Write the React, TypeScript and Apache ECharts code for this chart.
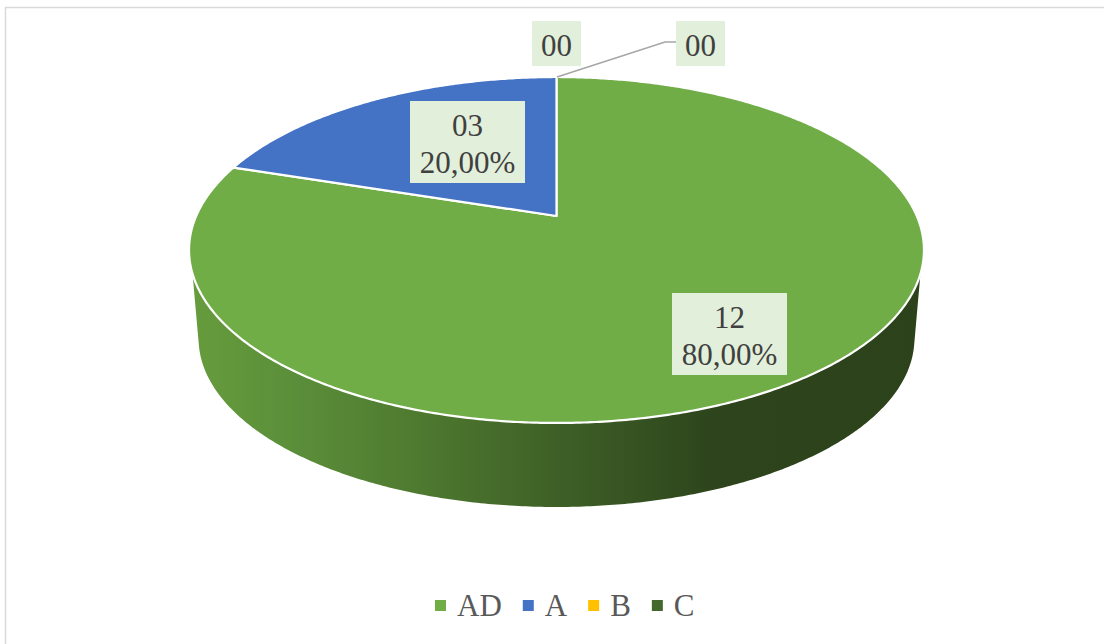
import React, { useEffect, useRef } from "react";
import * as echarts from "echarts";

const categories = ["AD", "A", "B", "C"];
const values = [12, 3, 0, 0];
const sliceColors = ["#70ad47", "#4472c4", "#ffc000", "#43682b"];

const WIDTH = 1104;
const HEIGHT = 644;
const FONT = '"Liberation Serif", "Times New Roman", serif';
const LABEL_BG = "#e2efda";
const LABEL_TEXT = "#404040";

// Perspective model of the pie's top disc: a unit circle seen through a homography.
const APEX_X = 556.5;
const APEX_Y = 216;
const RADIUS_X = 360.3;
const RADIUS_Y = 166.3;
const TILT = -0.1965;
const DISC_CENTER_Y = 250;

// The lower rim is the same ellipse, slightly shrunk and moved down.
const RIM_SCALE = 0.974;
const RIM_CENTER_Y = 338.5;
// Where each edge leaves the silhouette of the drum.
const TOP_WALL_LIMIT = 273;
const RIM_WALL_LIMIT = 345;

const total = values.reduce((a, b) => a + b, 0);
const startAngles = values.map((_, i) =>
  values.slice(0, i).reduce((a, b) => a + b, 0) / total * 360
);

type Pt = [number, number];

function topPoint(deg: number): Pt {
  const t = (deg * Math.PI) / 180;
  const u = Math.sin(t);
  const v = -Math.cos(t);
  const w = 1 + TILT * v;
  return [APEX_X + (RADIUS_X * u) / w, APEX_Y + (RADIUS_Y * v) / w];
}

function rimPoint(deg: number): Pt {
  const [x, y] = topPoint(deg);
  return [
    APEX_X + RIM_SCALE * (x - APEX_X),
    RIM_CENTER_Y + RIM_SCALE * (y - DISC_CENTER_Y),
  ];
}

function sampleAngles(from: number, to: number): number[] {
  const out: number[] = [];
  for (let a = from; a < to; a += 0.5) out.push(a);
  out.push(to);
  return out;
}

const wallFill = () =>
  new echarts.graphic.LinearGradient(0, 0, 1, 0, [
    { offset: 0, color: "#669c3d" },
    { offset: 0.15, color: "#5a8d39" },
    { offset: 0.3, color: "#4f7b30" },
    { offset: 0.5, color: "#3e6026" },
    { offset: 0.72, color: "#2d441c" },
    { offset: 1, color: "#2c421b" },
  ]);

// Data label placement: box left, top, right, bottom.
const labelBoxes: [number, number, number, number][] = [
  [672, 293, 787, 375],
  [410, 101, 525, 183],
  [532, 21, 581, 66],
  [676, 21, 725, 66],
];

function labelText(i: number): string {
  const count = String(values[i]).padStart(2, "0");
  if (values[i] === 0) return count;
  const pct = ((values[i] / total) * 100).toFixed(2).replace(".", ",");
  return `${count}\n${pct}%`;
}

function renderSlice(i: number) {
  const children: any[] = [];
  const from = startAngles[i];
  const sweep = (values[i] / total) * 360;

  if (sweep > 0) {
    const angles = sampleAngles(from, from + sweep);
    const top = angles.map(topPoint).filter((p) => p[1] >= TOP_WALL_LIMIT);
    const rim = angles.map(rimPoint).filter((p) => p[1] >= RIM_WALL_LIMIT);
    if (top.length > 1 && rim.length > 1) {
      children.push({
        type: "polygon",
        shape: { points: [...rim, ...top.slice().reverse()] },
        style: { fill: wallFill() },
      });
    }
    children.push({
      type: "polygon",
      shape: { points: [[APEX_X, APEX_Y], ...angles.map(topPoint)] },
      style: {
        fill: sliceColors[i],
        stroke: "#ffffff",
        lineWidth: 2.2,
        lineJoin: "round",
      },
    });
  }

  const [x0, y0, x1, y1] = labelBoxes[i];
  children.push({
    type: "rect",
    shape: { x: x0, y: y0, width: x1 - x0, height: y1 - y0 },
    style: { fill: LABEL_BG },
  });
  children.push({
    type: "text",
    style: {
      text: labelText(i),
      x: (x0 + x1) / 2,
      y: (y0 + y1) / 2 + 2,
      align: "center",
      verticalAlign: "middle",
      font: `31px ${FONT}`,
      lineHeight: 37,
      fill: LABEL_TEXT,
    },
  });
  return { type: "group", children };
}

export default function App() {
  const ref = useRef<HTMLDivElement>(null);

  useEffect(() => {
    const chart = echarts.init(ref.current!, null, { renderer: "svg" });
    chart.setOption({
      animation: false,
      backgroundColor: "#ffffff",
      color: sliceColors,
      legend: {
        left: 435,
        top: 590,
        padding: 0,
        selectedMode: false,
        icon: "rect",
        itemWidth: 11,
        itemHeight: 11,
        itemGap: 21,
        data: categories,
        textStyle: {
          fontFamily: FONT,
          fontSize: 31,
          color: "#595959",
          padding: [0, 0, 0, 6],
        },
      },
      graphic: [
        // Chart frame: only its top and left edges fall inside the page.
        {
          type: "polyline",
          silent: true,
          shape: { points: [[WIDTH, 7.5], [5.5, 7.5], [5.5, HEIGHT]] },
          style: { fill: "none", stroke: "#d9d9d9", lineWidth: 1.5 },
        },
        // Leader line of the last label.
        {
          type: "polyline",
          silent: true,
          z: 10,
          shape: { points: [[557, 77], [665, 42], [676, 42]] },
          style: { fill: "none", stroke: "#a6a6a6", lineWidth: 1.5 },
        },
      ],
      series: categories.map((name, i) => ({
        type: "custom",
        name,
        coordinateSystem: "none",
        silent: true,
        itemStyle: { color: sliceColors[i] },
        data: [values[i]],
        renderItem: () => renderSlice(i),
      })),
    });
    return () => chart.dispose();
  }, []);

  return (
    <div
      ref={ref}
      style={{ position: "absolute", left: 0, top: 0, width: WIDTH, height: HEIGHT }}
    />
  );
}
